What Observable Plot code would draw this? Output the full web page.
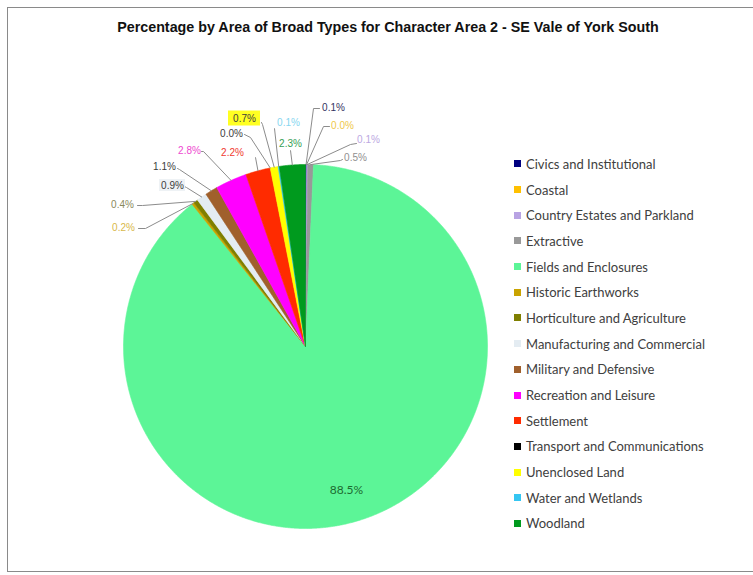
<!DOCTYPE html>
<html>
<head>
<meta charset="utf-8">
<script src="https://cdn.jsdelivr.net/npm/d3@7"></script>
<script src="https://cdn.jsdelivr.net/npm/@observablehq/plot@0.6"></script>
<style>
  html, body { margin: 0; padding: 0; background: #fff; }
  #wrap { position: relative; width: 753px; height: 575px; overflow: hidden; background: #fff; }
  #border { position: absolute; left: 7px; top: 7px; width: 780px; height: 565px; border: 1px solid #8a8a8a; box-sizing: border-box; pointer-events: none; }
  #title { position: absolute; top: 19px; left: 0; width: 776px; text-align: center; font: bold 14.3px "Liberation Sans", Arial, sans-serif; color: #111; }
  #legend { position: absolute; left: 514px; top: 151px; font: 13px Lato, sans-serif; color: #404040; }
  .li { height: 25.7px; display: flex; align-items: center; white-space: nowrap; }
  .sw { width: 7px; height: 7px; margin-right: 5px; flex: none; }
  #chart { position: absolute; left: 0; top: 0; }
</style>
</head>
<body>
<div id="wrap">
  <div id="chart"></div>
  <div id="title">Percentage by Area of Broad Types for Character Area 2 - SE Vale of York South</div>
  <div id="legend"></div>
  <div id="border"></div>
</div>
<script>
// ---- data ----
const categories = [
  "Civics and Institutional", "Coastal", "Country Estates and Parkland", "Extractive",
  "Fields and Enclosures", "Historic Earthworks", "Horticulture and Agriculture",
  "Manufacturing and Commercial", "Military and Defensive", "Recreation and Leisure",
  "Settlement", "Transport and Communications", "Unenclosed Land", "Water and Wetlands", "Woodland"
];
const values = [0.1, 0.0, 0.1, 0.5, 88.5, 0.2, 0.4, 0.9, 1.1, 2.8, 2.2, 0.0, 0.7, 0.1, 2.3];
const sliceColors = [
  "#000080", "#FFC000", "#B8A3E3", "#999999", "#5CF597", "#C9A300", "#7F7F00",
  "#E4ECF2", "#A0602C", "#FF00FF", "#FF2B00", "#000000", "#FFFF00", "#35C6F2", "#009A1E"
];
const labelColors = [
  "#33335f", "#EFC84A", "#BCA8E2", "#8f8f8f", "#1d6a30", "#D8B84A", "#8a8a5c",
  "#3c3c3c", "#3c3c3c", "#EE48D0", "#F03A30", "#3c3c3c", "#3c3c3c", "#86D6F0", "#35A055"
];

// ---- layout (pixels) ----
const W = 753, H = 575, cx = 305, cy = 346, R = 182;
// label centres, leader elbow and end points, relative to the pie centre (px, y down)
const labelAt = [
  [28,-239], [37,-221], [63,-207], [50,-189], [41,144], [-182,-119], [-183,-142],
  [-133,-161], [-141,-180], [-116,-196], [-73,-194], [-74,-213], [-61,-228], [-17,-224], [-15,-203]
];
const leaderElbow = [
  [8,-238], [18,-220], [45,-202], [35,-186], null, [-160,-118], [-163,-141],
  [-119,-159], [-126,-177], [-102,-195], [-50,-189], [-55,-209], [-43,-222], [-31,-218], [-15,-196]
];
const leaderEnd = [
  [14,-238], [24,-220], [51,-203], [37,-187], null, [-167,-118], [-168,-141],
  [-121,-160], [-128,-178], [-104,-195], [-50,-189], [-61,-212], [-44,-224], [-31,-218], [-15,-196]
];

const toU = ([dx, dy]) => [dx / R, -dy / R];
const fmt = v => v.toFixed(1) + "%";

const arcs = d3.pie().sort(null).value(d => d)(values);
const polar = (a, r) => [r * Math.sin(a), r * Math.cos(a)];

const marks = [];
// slices
arcs.forEach((a, i) => {
  if (a.endAngle - a.startAngle <= 0) return;
  const pts = [[0, 0]];
  const n = Math.max(2, Math.ceil((a.endAngle - a.startAngle) / 0.005));
  for (let k = 0; k <= n; k++) {
    pts.push(polar(a.startAngle + (a.endAngle - a.startAngle) * k / n, 1));
  }
  pts.push([0, 0]);
  marks.push(Plot.line(pts, {x: d => d[0], y: d => d[1], fill: sliceColors[i], stroke: sliceColors[i], strokeWidth: 0.6, curve: "linear"}));
});
// leader lines
arcs.forEach((a, i) => {
  if (!leaderElbow[i]) return;
  const mid = (a.startAngle + a.endAngle) / 2;
  const pts = [polar(mid, 1.0), toU(leaderElbow[i]), toU(leaderEnd[i])];
  marks.push(Plot.line(pts, {x: d => d[0], y: d => d[1], stroke: "#8c8c8c", strokeWidth: 1}));
});
// highlight boxes behind two labels
const boxes = [{i: 12, fill: "#FFFF22", w: 32, h: 15}, {i: 7, fill: "#EEF2F5", w: 26, h: 12}];
marks.push(Plot.rect(boxes, {
  x1: b => (labelAt[b.i][0] - b.w / 2) / R, x2: b => (labelAt[b.i][0] + b.w / 2) / R,
  y1: b => -(labelAt[b.i][1] - b.h / 2) / R, y2: b => -(labelAt[b.i][1] + b.h / 2) / R,
  fill: b => b.fill
}));
// labels
const labelData = values.map((v, i) => ({i, text: fmt(v), x: labelAt[i][0] / R, y: -labelAt[i][1] / R}));
marks.push(Plot.text(labelData.filter(d => d.i !== 4), {
  x: "x", y: "y", text: "text", fill: d => labelColors[d.i],
  fontSize: 10, fontFamily: "Liberation Sans, Arial, sans-serif"
}));
marks.push(Plot.text(labelData.filter(d => d.i === 4), {
  x: "x", y: "y", text: "text", fill: d => labelColors[d.i],
  fontSize: 12, fontFamily: "Lato, sans-serif"
}));

const plot = Plot.plot({
  width: W, height: H,
  margin: 0,
  x: {domain: [-cx / R, (W - cx) / R], axis: null},
  y: {domain: [-(H - cy) / R, cy / R], axis: null},
  color: {type: "identity"},
  marks
});
document.getElementById("chart").appendChild(plot);

// legend
const lg = document.getElementById("legend");
categories.forEach((c, i) => {
  const row = document.createElement("div");
  row.className = "li";
  const sw = document.createElement("span");
  sw.className = "sw";
  sw.style.background = sliceColors[i];
  const t = document.createElement("span");
  t.textContent = c;
  row.appendChild(sw); row.appendChild(t);
  lg.appendChild(row);
});
</script>
</body>
</html>
